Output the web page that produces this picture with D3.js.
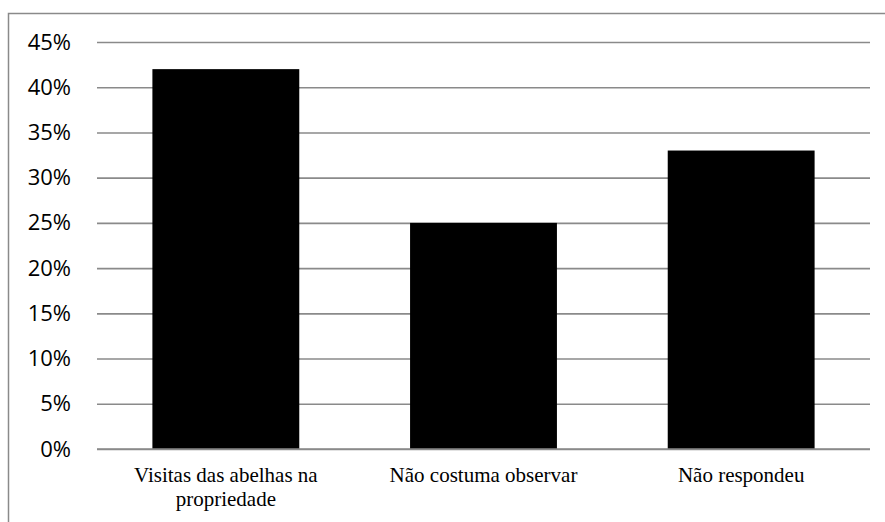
<!DOCTYPE html>
<html>
<head>
<meta charset="utf-8">
<script src="https://cdn.jsdelivr.net/npm/d3@7"></script>
<style>
  body { margin: 0; background: #fff; }
  svg { display: block; }
</style>
</head>
<body>
<svg id="chart"></svg>
<script>
const categories = ['Visitas das abelhas na propriedade', 'Não costuma observar', 'Não respondeu'];
const values = [0.42, 0.25, 0.33];
const yTicks = [0, 0.05, 0.10, 0.15, 0.20, 0.25, 0.30, 0.35, 0.40, 0.45];

const width = 885;
const height = 522;
const plotLeft = 97, plotRight = 870, plotTop = 42, plotBottom = 449;

const svg = d3.select('#chart')
  .attr('width', width)
  .attr('height', height);

// chart area border (runs off the right and bottom edges)
svg.append('rect')
  .attr('x', 8.5)
  .attr('y', 13.5)
  .attr('width', 900)
  .attr('height', 600)
  .attr('fill', 'none')
  .attr('stroke', '#8a8a8a')
  .attr('stroke-width', 1.5);

const x = d3.scaleBand()
  .domain(categories)
  .range([plotLeft, plotRight])
  .paddingInner(0.43)
  .paddingOuter(0.215);

const y = d3.scaleLinear()
  .domain([0, 0.45])
  .range([plotBottom, plotTop]);

// gridlines + tick labels
const yAxis = d3.axisLeft(y)
  .tickValues(yTicks)
  .tickFormat(d3.format('.0%'))
  .tickSize(-(plotRight - plotLeft))
  .tickPadding(26);

const gy = svg.append('g')
  .attr('transform', `translate(${plotLeft},0)`)
  .call(yAxis);

gy.select('.domain').remove();
gy.selectAll('.tick line')
  .attr('stroke', '#8a8a8a')
  .attr('stroke-width', 1.6);
gy.selectAll('.tick text')
  .style('font-family', "'Open Sans', sans-serif")
  .style('font-size', '22px')
  .attr('fill', '#000');

// bars
svg.append('g')
  .selectAll('rect')
  .data(values)
  .enter()
  .append('rect')
  .attr('x', (d, i) => x(categories[i]))
  .attr('y', d => y(d))
  .attr('width', x.bandwidth())
  .attr('height', d => y(0) - y(d))
  .attr('fill', '#000');

// redraw baseline on top of bars
svg.append('line')
  .attr('x1', plotLeft)
  .attr('x2', plotRight)
  .attr('y1', y(0))
  .attr('y2', y(0))
  .attr('stroke', '#8a8a8a')
  .attr('stroke-width', 1.6);

// category labels, wrapped to the category width
const xAxis = d3.axisBottom(x).tickSize(0).tickPadding(0);
const gx = svg.append('g')
  .attr('transform', `translate(0,${plotBottom})`)
  .call(xAxis);
gx.select('.domain').remove();

gx.selectAll('.tick text')
  .style('font-family', "'Liberation Serif', 'Times New Roman', Times, serif")
  .style('font-size', '21px')
  .attr('fill', '#000')
  .attr('y', 0)
  .attr('dy', null)
  .each(function (d) {
    const t = d3.select(this);
    const words = d.split(' ');
    const maxW = x.step() * 0.92;
    t.text(null);
    let lines = [[]];
    const probe = t.append('tspan');
    words.forEach(w => {
      const cur = lines[lines.length - 1];
      probe.text(cur.concat(w).join(' '));
      if (probe.node().getComputedTextLength() > maxW && cur.length) {
        lines.push([w]);
      } else {
        cur.push(w);
      }
    });
    probe.remove();
    lines.forEach((ln, i) => {
      t.append('tspan')
        .attr('x', 0)
        .attr('y', 33 + i * 23.5)
        .text(ln.join(' '));
    });
  });
</script>
</body>
</html>
